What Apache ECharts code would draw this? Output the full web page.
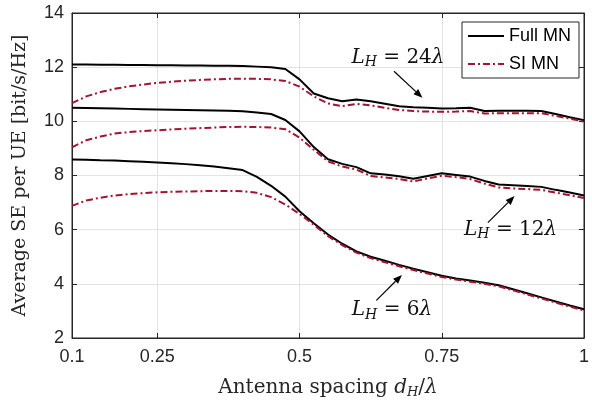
<!DOCTYPE html>
<html><head><meta charset="utf-8">
<script src="https://cdn.jsdelivr.net/npm/echarts@6/dist/echarts.min.js"></script>
<style>html,body{margin:0;padding:0;background:#fff}#c{width:592px;height:404px}</style>
</head><body><div id="c"></div>
<script>
// x grid (antenna spacing d_H / lambda)
const xs = [0.1,0.125,0.15,0.175,0.2,0.225,0.25,0.275,0.3,0.325,0.35,0.375,0.4,0.425,0.45,0.475,0.5,0.525,0.55,0.575,0.6,0.625,0.65,0.675,0.7,0.725,0.75,0.775,0.8,0.825,0.85,0.875,0.9,0.925,0.95,0.975,1];
const xTicks = [0.1,0.25,0.5,0.75,1];
const yTicks = [2,4,6,8,10,12,14];
// L_H = 24 lambda
const full24 = [12.10,12.10,12.09,12.09,12.08,12.08,12.07,12.07,12.06,12.06,12.05,12.05,12.04,12.02,12.00,11.93,11.55,11.03,10.85,10.74,10.81,10.74,10.65,10.56,10.52,10.50,10.47,10.48,10.50,10.38,10.39,10.39,10.39,10.38,10.27,10.15,10.04];
const si24   = [10.67,10.92,11.08,11.20,11.29,11.36,11.42,11.46,11.50,11.53,11.55,11.57,11.57,11.57,11.55,11.49,11.28,10.92,10.66,10.56,10.64,10.59,10.50,10.42,10.38,10.36,10.35,10.36,10.38,10.29,10.30,10.30,10.30,10.30,10.20,10.10,9.99];
// L_H = 12 lambda
const full12 = [10.50,10.49,10.48,10.47,10.46,10.45,10.44,10.43,10.42,10.41,10.40,10.39,10.37,10.33,10.27,10.05,9.63,9.05,8.60,8.43,8.31,8.08,8.04,7.97,7.88,7.98,8.08,8.02,7.96,7.80,7.67,7.64,7.61,7.58,7.47,7.37,7.26];
const si12   = [9.04,9.30,9.44,9.55,9.60,9.64,9.67,9.70,9.73,9.75,9.77,9.79,9.80,9.79,9.77,9.71,9.40,8.95,8.52,8.33,8.22,7.98,7.93,7.87,7.78,7.89,7.99,7.94,7.87,7.70,7.56,7.52,7.50,7.47,7.37,7.27,7.17];
// L_H = 6 lambda
const full6  = [8.59,8.58,8.56,8.55,8.53,8.51,8.48,8.45,8.42,8.38,8.33,8.27,8.20,7.95,7.62,7.22,6.68,6.24,5.82,5.48,5.20,5.00,4.85,4.70,4.56,4.43,4.30,4.20,4.12,4.04,3.95,3.80,3.65,3.50,3.35,3.20,3.06];
const si6    = [6.88,7.08,7.18,7.26,7.31,7.35,7.38,7.40,7.41,7.42,7.43,7.43,7.42,7.36,7.20,6.93,6.58,6.18,5.76,5.43,5.15,4.95,4.80,4.65,4.51,4.38,4.25,4.16,4.08,4.00,3.91,3.76,3.61,3.46,3.31,3.16,3.02];
const legendNames = ['Full MN','SI MN'];
// annotations: label value, text anchor, arrow from, arrow to (data coordinates)
const annotations = [
  {L:'24', text:[0.673,12.36], from:[0.666,11.85], to:[0.716,10.87]},
  {L:'12', text:[0.871,6.00],  from:[0.831,6.26],  to:[0.878,7.24]},
  {L:'6',  text:[0.6625,3.03], from:[0.635,3.39],  to:[0.680,4.33]}
];

const RED = '#A2142F';
const AX = '#262626';
const serif = 'DejaVu Serif, Liberation Serif, serif';
const pair = (ys) => xs.map((x,i)=>[x, ys[i]]);
const fullStyle = {color:'#000', width:2, type:'solid'};
const siStyle = {color:RED, width:2, type:[7,3,2,3]};
function mk(name, ys, style){
  return {name, type:'line', data:pair(ys), showSymbol:false, symbol:'none', smooth:false,
    lineStyle:style, itemStyle:{color:style.color}, animation:false, z: name==='Full MN'?3:4, silent:true};
}
const chart = echarts.init(document.getElementById('c'), null, {renderer:'canvas'});
const labelFont = {fontFamily:'Liberation Sans, Arial, sans-serif', fontSize:18, color:AX};
const option = {
  animation:false,
  grid:{left:72, right:2, top:13, bottom:61, containLabel:false, show:true, borderColor:AX, borderWidth:1, backgroundColor:'transparent'},
  legend:{orient:'vertical', left:462, top:22, data:legendNames, itemWidth:36, itemHeight:14, itemGap:10,
    padding:[5,8,5,5], borderColor:AX, borderWidth:1, backgroundColor:'#fff', z:30,
    itemStyle:{color:'transparent', borderColor:'transparent', borderWidth:0},
    textStyle:{fontFamily:'Liberation Sans, Arial, sans-serif', fontSize:18, color:'#000'}},
  xAxis:[{type:'value', min:0.1, max:1, position:'bottom',
    axisLine:{show:true, onZero:false, lineStyle:{color:AX, width:1}},
    axisTick:{show:true, inside:true, length:5, customValues:xTicks, lineStyle:{color:AX}},
    axisLabel:{customValues:xTicks, margin:10, formatter:v=>String(v), ...labelFont},
    splitLine:{show:true, lineStyle:{color:'#e3e3e3', width:1}},
    name:'{r|Antenna spacing }{i|d}{s|H}{r|/}{i|λ}', nameLocation:'middle', nameGap:38,
    nameTextStyle:{rich:{
      r:{fontFamily:serif, fontSize:20, color:AX},
      i:{fontFamily:serif, fontStyle:'italic', fontSize:20, color:AX},
      s:{fontFamily:serif, fontStyle:'italic', fontSize:13, color:AX, padding:[10,0,0,0]}}}},
   {type:'value', min:0.1, max:1, position:'top',
    axisLine:{show:true, onZero:false, lineStyle:{color:AX, width:1}},
    axisTick:{show:true, inside:true, length:5, customValues:xTicks, lineStyle:{color:AX}},
    axisLabel:{show:false, customValues:xTicks}, splitLine:{show:false}}],
  yAxis:[{type:'value', min:2, max:14, interval:2, position:'left',
    axisLine:{show:true, onZero:false, lineStyle:{color:AX, width:1}},
    axisTick:{show:true, inside:true, length:5, lineStyle:{color:AX}},
    axisLabel:{margin:8, ...labelFont},
    splitLine:{show:true, lineStyle:{color:'#e3e3e3', width:1}},
    name:'Average SE per UE [bit/s/Hz]', nameLocation:'middle', nameGap:42,
    nameTextStyle:{fontFamily:serif, fontSize:19, color:AX}},
   {type:'value', min:2, max:14, interval:2, position:'right',
    axisLine:{show:true, onZero:false, lineStyle:{color:AX, width:1}},
    axisTick:{show:true, inside:true, length:5, lineStyle:{color:AX}},
    axisLabel:{show:false}, splitLine:{show:false}}],
  series:[
    mk('Full MN', full24, fullStyle), mk('SI MN', si24, siStyle),
    mk('Full MN', full12, fullStyle), mk('SI MN', si12, siStyle),
    mk('Full MN', full6, fullStyle), mk('SI MN', si6, siStyle)
  ]
};
chart.setOption(option);

const g = [];
annotations.forEach(a=>{
  const t = chart.convertToPixel({xAxisIndex:0, yAxisIndex:0}, a.text);
  const f = chart.convertToPixel({xAxisIndex:0, yAxisIndex:0}, a.from);
  const e = chart.convertToPixel({xAxisIndex:0, yAxisIndex:0}, a.to);
  g.push({type:'text', x:t[0], y:t[1], z:20, style:{
    text:'{i|L}{s|H}{r| = '+a.L+'}{i|λ}', align:'center', verticalAlign:'middle',
    rich:{i:{fontFamily:serif, fontStyle:'italic', fontSize:20, fill:'#111'},
          r:{fontFamily:serif, fontSize:20, fill:'#111'},
          s:{fontFamily:serif, fontStyle:'italic', fontSize:14, fill:'#111', padding:[10,0,0,0]}}}});
  const dx=e[0]-f[0], dy=e[1]-f[1], len=Math.hypot(dx,dy), ux=dx/len, uy=dy/len;
  const hl=9, hw=3.5;
  const bx=e[0]-ux*hl, by=e[1]-uy*hl;
  g.push({type:'line', z:20, shape:{x1:f[0], y1:f[1], x2:bx, y2:by}, style:{stroke:'#000', lineWidth:1.2}});
  g.push({type:'polygon', z:20, shape:{points:[[e[0],e[1]],[bx-uy*hw,by+ux*hw],[bx+uy*hw,by-ux*hw]]}, style:{fill:'#000'}});
});
chart.setOption({graphic:g});
</script></body></html>
